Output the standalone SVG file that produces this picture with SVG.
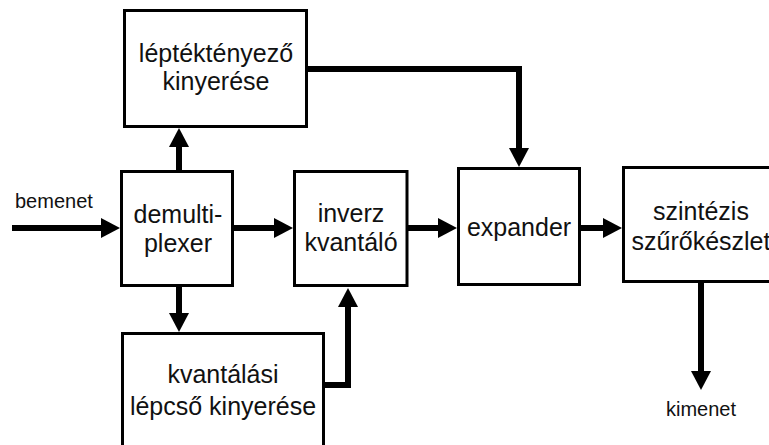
<svg xmlns="http://www.w3.org/2000/svg" width="769" height="445" viewBox="0 0 769 445">
<defs>
<style>
.box{fill:#fff;stroke:#000;stroke-width:3}
.t{font-family:"Liberation Sans",Arial,sans-serif;font-size:25px;fill:#111;text-anchor:middle}
.lbl{font-family:"Liberation Sans",Arial,sans-serif;font-size:20px;fill:#111}
.c{fill:none;stroke:#000;stroke-width:6;stroke-linejoin:miter}
</style>
<marker id="ah" markerUnits="userSpaceOnUse" markerWidth="20" markerHeight="20" refX="1" refY="10" orient="auto" overflow="visible">
<path d="M0,0 L19,10 L0,20 z" fill="#000"/>
</marker>
</defs>
<rect width="769" height="445" fill="#fff"/>
<g id="connectors">
<path class="c" d="M12,228 H102" marker-end="url(#ah)"/>
<path class="c" d="M234,228 H275" marker-end="url(#ah)"/>
<path class="c" d="M408,228 H439" marker-end="url(#ah)"/>
<path class="c" d="M581,228 H604" marker-end="url(#ah)"/>
<path class="c" d="M179,170 V146" marker-end="url(#ah)"/>
<path class="c" d="M179,287 V314" marker-end="url(#ah)"/>
<path class="c" d="M325,385 H348 V306" marker-end="url(#ah)"/>
<path class="c" d="M308,69 H519 V149" marker-end="url(#ah)"/>
<path class="c" d="M701,283 V372" marker-end="url(#ah)"/>
</g>
<g id="lepteketenyezo">
<rect class="box" x="124.5" y="10.5" width="182" height="116"/>
<text class="t" x="216" y="62">léptéktényező</text>
<text class="t" x="216" y="90">kinyerése</text>
</g>
<g id="demultiplexer">
<rect class="box" x="121.5" y="171.5" width="111" height="114"/>
<text class="t" x="178" y="223">demulti-</text>
<text class="t" x="178" y="252">plexer</text>
</g>
<g id="inverz">
<rect class="box" x="294.5" y="171.5" width="112.5" height="114"/>
<text class="t" x="351" y="222">inverz</text>
<text class="t" x="351" y="251">kvantáló</text>
</g>
<g id="expander">
<rect class="box" x="458.5" y="168.5" width="121" height="116"/>
<text class="t" x="519" y="236">expander</text>
</g>
<g id="szintezis">
<rect class="box" x="623.5" y="167.5" width="160" height="114"/>
<text class="t" x="701" y="220">szintézis</text>
<text class="t" x="701" y="250">szűrőkészlet</text>
</g>
<g id="kvantalasi">
<rect class="box" x="122.5" y="333.5" width="201" height="130"/>
<text class="t" x="223" y="383">kvantálási</text>
<text class="t" x="223" y="415">lépcső kinyerése</text>
</g>
<g id="labels">
<text class="lbl" x="15" y="208">bemenet</text>
<text class="lbl" x="701" y="416" text-anchor="middle">kimenet</text>
</g>
</svg>
